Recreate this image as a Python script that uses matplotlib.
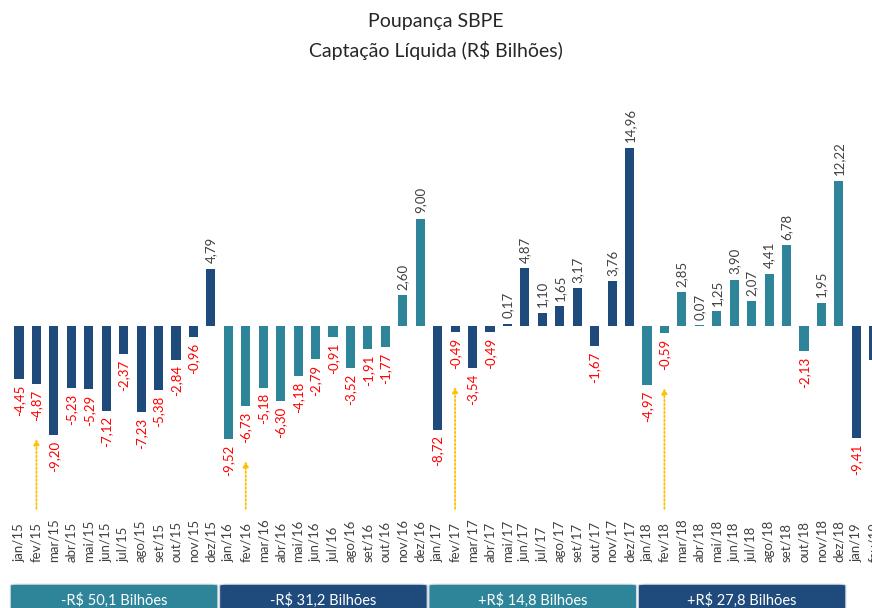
import matplotlib
matplotlib.use("Agg")
import matplotlib.pyplot as plt
from matplotlib.patches import FancyBboxPatch

plt.rcParams['font.family'] = ['Lato', 'DejaVu Sans']

meses = ["jan", "fev", "mar", "abr", "mai", "jun", "jul", "ago", "set", "out", "nov", "dez"]
anos = ["15", "16", "17", "18", "19"]
cap_2015 = [-4.45, -4.87, -9.20, -5.23, -5.29, -7.12, -2.37, -7.23, -5.38, -2.84, -0.96, 4.79]
cap_2016 = [-9.52, -6.73, -5.18, -6.30, -4.18, -2.79, -0.91, -3.52, -1.91, -1.77, 2.60, 9.00]
cap_2017 = [-8.72, -0.49, -3.54, -0.49, 0.17, 4.87, 1.10, 1.65, 3.17, -1.67, 3.76, 14.96]
cap_2018 = [-4.97, -0.59, 2.85, 0.07, 1.25, 3.90, 2.07, 4.41, 6.78, -2.13, 1.95, 12.22]
cap_2019 = [-9.41, -2.83]
totais = ["-R\\$ 50,1 Bilhões", "-R\\$ 31,2 Bilhões", "+R\\$ 14,8 Bilhões", "+R\\$ 27,8 Bilhões"]

NAVY = "#1F4A7C"
TEAL = "#2E8599"
cores_ano = [NAVY, TEAL, NAVY, TEAL, NAVY]
cores_caixa = [TEAL, NAVY, TEAL, NAVY]

series = [cap_2015, cap_2016, cap_2017, cap_2018, cap_2019]
valores, rotulos, cores = [], [], []
for a, vals in enumerate(series):
    for m, v in enumerate(vals):
        valores.append(v)
        rotulos.append(meses[m] + "/" + anos[a])
        cores.append(cores_ano[a])
x = list(range(len(valores)))

fig = plt.figure(figsize=(8.72, 6.08), dpi=100)
ax = fig.add_axes([0, 0, 1, 1])
ax.set_xlim(-1.09, 48.9)
ax.set_ylim(-23.7, 27.4)
ax.axis("off")

ax.bar(x, valores, width=0.52, color=cores)

for xi, v in zip(x, valores):
    txt = ("%.2f" % v).replace(".", ",")
    if v >= 0:
        ax.annotate(txt, (xi, v), xytext=(0, 4), textcoords="offset points",
                    rotation=90, ha="center", va="bottom", fontsize=9.5, color="#404040")
    else:
        ax.annotate(txt, (xi, v), xytext=(0, -4), textcoords="offset points",
                    rotation=90, ha="center", va="top", fontsize=9.5, color="#FF0000")

# month labels
for xi, lab in zip(x, rotulos):
    ax.text(xi, -19.8, lab, rotation=90, ha="center", va="bottom", fontsize=9.5, color="#404040")

# yellow arrows at february
for a in range(4):
    i = a * 12 + 1
    ax.annotate("", xy=(i, valores[i] - 4.4), xytext=(i, -15.6),
                arrowprops=dict(arrowstyle="-|>", color="#FFC000", lw=1.3,
                                linestyle=(0, (1, 1.2)), mutation_scale=8))

# yearly total boxes
for a, t in enumerate(totais):
    x0 = a * 12 - 0.5
    w = 11.9
    box = FancyBboxPatch((x0, -26), w, 4.3,
                         boxstyle="round,pad=0,rounding_size=0.4",
                         mutation_aspect=1.0 / 3.5,
                         facecolor=cores_caixa[a], edgecolor="#cfd8e0", lw=0.8)
    ax.add_patch(box)
    ax.text(x0 + w / 2, -23.05, t, ha="center", va="center", fontsize=10.5, color="white")

fig.text(0.5, 1 - 22 / 608, "Poupança SBPE", ha="center", va="center", fontsize=14, color="#262626")
fig.text(0.5, 1 - 50 / 608, "Captação Líquida (R\\$ Bilhões)", ha="center", va="center",
         fontsize=14, color="#262626")

fig.savefig("out.png", dpi=100)
